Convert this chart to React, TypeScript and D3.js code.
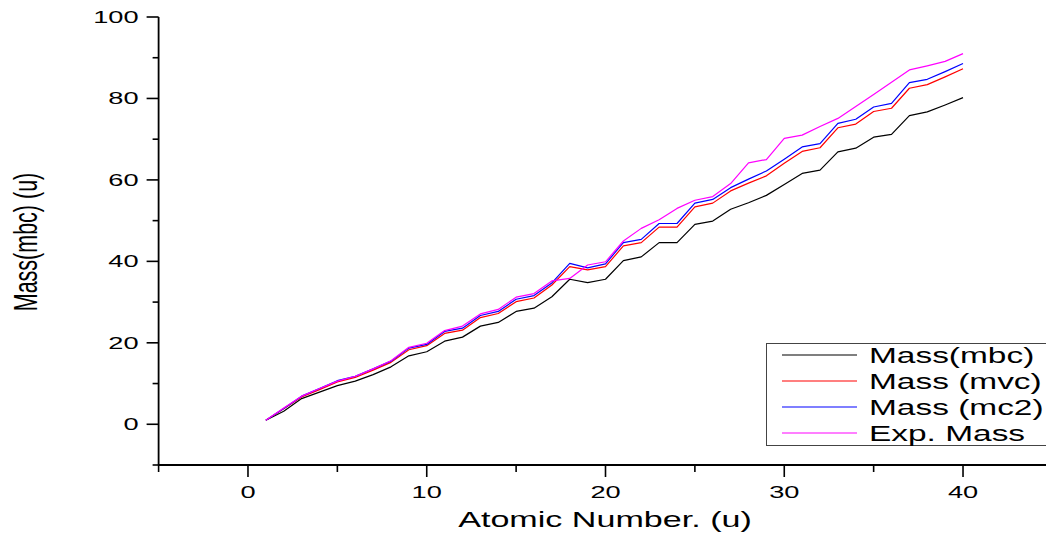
import React from 'react';
import * as d3 from 'd3';

// atomic number on x
const atomicNumber = [1, 2, 3, 4, 5, 6, 7, 8, 9, 10, 11, 12, 13, 14, 15, 16, 17, 18, 19, 20,
  21, 22, 23, 24, 25, 26, 27, 28, 29, 30, 31, 32, 33, 34, 35, 36, 37, 38, 39, 40];

const massMbc = [1.0, 3.2, 6.3, 7.9, 9.5, 10.6, 12.2, 14.1, 16.8, 17.8,
  20.4, 21.4, 24.1, 25.0, 27.7, 28.5, 31.3, 35.6, 34.8, 35.6,
  40.2, 41.1, 44.6, 44.6, 49.1, 49.9, 52.8, 54.4, 56.2, 58.9,
  61.6, 62.4, 66.9, 67.8, 70.5, 71.2, 75.8, 76.7, 78.4, 80.2];

const massMvc = [1.0, 3.8, 6.7, 8.5, 10.4, 11.5, 13.3, 15.2, 18.3, 19.3,
  22.3, 23.1, 26.2, 27.2, 30.1, 31.0, 34.2, 38.7, 37.9, 38.7,
  43.8, 44.6, 48.4, 48.4, 53.4, 54.3, 57.3, 59.2, 61.0, 64.1,
  67.0, 67.9, 72.8, 73.7, 76.8, 77.6, 82.5, 83.4, 85.3, 87.3];

const massMc2 = [1.0, 3.9, 6.9, 8.8, 10.7, 11.8, 13.6, 15.5, 18.7, 19.6,
  22.8, 23.6, 26.7, 27.7, 30.7, 31.6, 34.7, 39.5, 38.4, 39.4,
  44.6, 45.4, 49.3, 49.3, 54.3, 55.2, 58.1, 60.2, 62.2, 65.1,
  68.1, 68.9, 73.9, 74.9, 77.9, 78.8, 83.9, 84.7, 86.6, 88.6];

const expMass = [1.0, 4.0, 6.9, 8.8, 10.6, 11.8, 13.6, 15.6, 18.9, 19.9,
  23.0, 24.1, 27.1, 28.2, 31.2, 32.1, 35.2, 35.8, 39.1, 39.9,
  45.0, 48.1, 50.2, 53.0, 55.0, 55.9, 59.1, 64.2, 65.0, 70.2,
  71.0, 73.1, 75.1, 78.0, 81.0, 84.0, 87.0, 88.0, 89.1, 91.0];

const seriesNames = ['Mass(mbc)', 'Mass (mvc)', 'Mass (mc2)', 'Exp. Mass'];
const seriesColors = ['#000000', '#ff0000', '#0000ff', '#ff00ff'];

const xMajorTicks = [0, 10, 20, 30, 40];
const xMinorTicks = [-5, 5, 15, 25, 35, 45];
const yMajorTicks = [0, 20, 40, 60, 80, 100];
const yMinorTicks = [-10, 10, 30, 50, 70, 90];

const App = () => {
  const svgRef = React.useRef(null);

  const width = 1046;
  const height = 534;

  React.useEffect(() => {
    const svg = d3.select(svgRef.current);
    svg.selectAll('*').remove();

    const x = d3.scaleLinear().domain([-5, 45]).range([158.6, 1052.4]);
    const y = d3.scaleLinear().domain([-10, 100]).range([465, 17]);

    const font = 'Liberation Sans, Arial, sans-serif';

    // lines
    const allSeries = [massMbc, massMvc, massMc2, expMass];
    const line = d3.line<number>()
      .x((d, i) => x(atomicNumber[i]))
      .y((d) => y(d));

    allSeries.forEach((s, k) => {
      svg.append('path')
        .attr('d', line(s))
        .attr('fill', 'none')
        .attr('stroke', seriesColors[k])
        .attr('stroke-width', 1.2)
        .attr('stroke-linejoin', 'round');
    });

    // axes
    const axisG = svg.append('g').attr('stroke', '#000');
    axisG.append('line')
      .attr('x1', x(-5)).attr('x2', width)
      .attr('y1', y(-10)).attr('y2', y(-10))
      .attr('stroke-width', 1.8);
    axisG.append('line')
      .attr('x1', x(-5)).attr('x2', x(-5))
      .attr('y1', y(100)).attr('y2', y(-10))
      .attr('stroke-width', 1.8);

    xMajorTicks.forEach((t) => {
      axisG.append('line')
        .attr('x1', x(t)).attr('x2', x(t))
        .attr('y1', y(-10)).attr('y2', y(-10) + 12)
        .attr('stroke-width', 1.6);
      svg.append('text')
        .attr('transform', `translate(${x(t)},${y(-10) + 33}) scale(1.6,1)`)
        .attr('text-anchor', 'middle')
        .style('font-family', font)
        .style('font-size', '17px')
        .text(t);
    });
    xMinorTicks.forEach((t) => {
      axisG.append('line')
        .attr('x1', x(t)).attr('x2', x(t))
        .attr('y1', y(-10)).attr('y2', y(-10) + 7)
        .attr('stroke-width', 1.6);
    });

    yMajorTicks.forEach((t) => {
      axisG.append('line')
        .attr('x1', x(-5) - 12).attr('x2', x(-5))
        .attr('y1', y(t)).attr('y2', y(t))
        .attr('stroke-width', 1.6);
      svg.append('text')
        .attr('transform', `translate(${x(-5) - 20},${y(t) + 6}) scale(1.6,1)`)
        .attr('text-anchor', 'end')
        .style('font-family', font)
        .style('font-size', '17px')
        .text(t);
    });
    yMinorTicks.forEach((t) => {
      axisG.append('line')
        .attr('x1', x(-5) - 6).attr('x2', x(-5))
        .attr('y1', y(t)).attr('y2', y(t))
        .attr('stroke-width', 1.6);
    });

    // axis titles
    svg.append('text')
      .attr('transform', `translate(${605},${527}) scale(1.55,1)`)
      .attr('text-anchor', 'middle')
      .style('font-family', font)
      .style('font-size', '22px')
      .text('Atomic Number. (u)');

    svg.append('text')
      .attr('transform', `translate(${37},${242}) scale(1.55,1) rotate(-90)`)
      .attr('text-anchor', 'middle')
      .style('font-family', font)
      .style('font-size', '21.5px')
      .text('Mass(mbc) (u)');

    // legend
    const legend = svg.append('g');
    legend.append('rect')
      .attr('x', 766.5).attr('y', 343.5)
      .attr('width', 300).attr('height', 102)
      .attr('fill', '#fff')
      .attr('stroke', '#444')
      .attr('stroke-width', 1);
    seriesNames.forEach((name, k) => {
      const cy = 355 + k * 26;
      legend.append('line')
        .attr('x1', 782).attr('x2', 857)
        .attr('y1', cy).attr('y2', cy)
        .attr('stroke', seriesColors[k])
        .attr('stroke-width', 1.2);
      legend.append('text')
        .attr('transform', `translate(869,${cy + 7.5}) scale(1.52,1)`)
        .style('font-family', font)
        .style('font-size', '22px')
        .text(name);
    });
  // eslint-disable-next-line react-hooks/exhaustive-deps
  }, []);

  return (
    <svg
      ref={svgRef}
      width={width}
      height={height}
      style={{ position: 'absolute', left: 0, top: 0, background: '#fff' }}
    />
  );
};

export default App;
